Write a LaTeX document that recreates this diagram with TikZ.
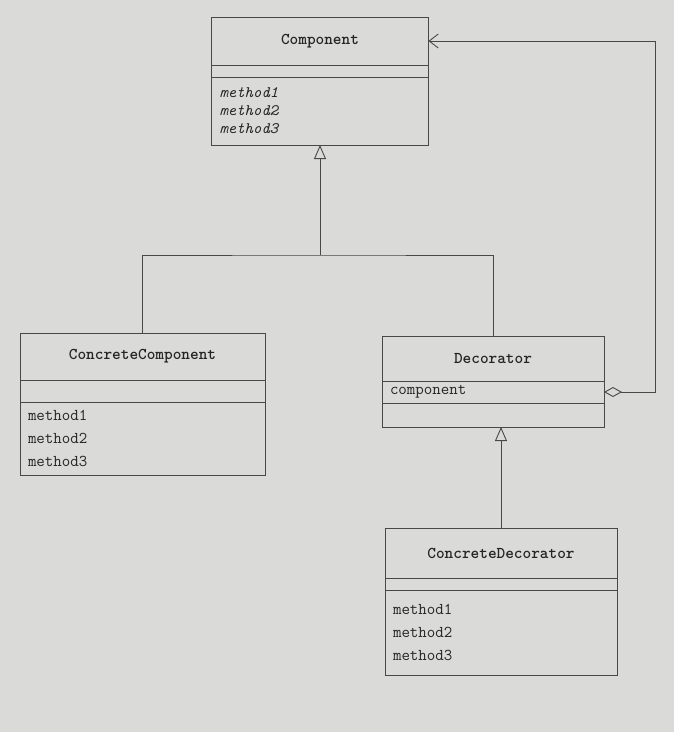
\documentclass[tikz,border=0pt]{standalone}
\usetikzlibrary{positioning,arrows.meta}
\definecolor{paper}{RGB}{218,218,216}
\definecolor{ink}{RGB}{72,72,72}
\definecolor{type}{RGB}{36,36,36}
\tikzset{
  part/.style={draw=ink, line width=0.9pt, outer sep=0pt, inner xsep=8pt, inner ysep=0pt,
    text=type, font=\ttfamily\fontsize{16.5}{23}\selectfont},
  namepart/.style={part, font=\ttfamily\bfseries\fontsize{16.5}{18}\selectfont, align=center},
  listpart/.style={part, align=left},
  link/.style={draw=ink, line width=0.9pt},
}

\begin{document}
\begin{tikzpicture}[x=1pt, y=-1pt]
\fill[paper] (0,0) rectangle (674,732);

% Component
\node[namepart, text width=201pt, minimum height=48pt] (comp-name) at (320,41) {Component};
\node[listpart, text width=201pt, minimum height=12pt, below=0pt of comp-name] (comp-attr) {};
\node[listpart, text width=201pt, minimum height=68pt, below=0pt of comp-attr,
  font=\ttfamily\fontsize{16}{18}\selectfont] (comp-ops)
  {\itshape method1\\\itshape method2\\\itshape method3};

% ConcreteComponent
\node[namepart, text width=229pt, minimum height=47pt] (ccomp-name) at (142.5,356.5) {ConcreteComponent};
\node[listpart, text width=229pt, minimum height=22pt, below=0pt of ccomp-name] (ccomp-attr) {};
\node[listpart, text width=229pt, minimum height=73pt, below=0pt of ccomp-attr] (ccomp-ops)
  {method1\\method2\\method3};

% Decorator
\node[namepart, text width=206pt, minimum height=45pt] (dec-name) at (493,358.5) {Decorator};
\node[listpart, text width=206pt, minimum height=22pt, below=0pt of dec-name] (dec-attr) {component};
\node[listpart, text width=206pt, minimum height=24pt, below=0pt of dec-attr] (dec-ops) {};

% ConcreteDecorator
\node[namepart, text width=216pt, minimum height=50pt] (cdec-name) at (501,553) {ConcreteDecorator};
\node[listpart, text width=216pt, minimum height=12pt, below=0pt of cdec-name] (cdec-attr) {};
\node[listpart, text width=216pt, minimum height=85pt, below=0pt of cdec-attr] (cdec-ops)
  {method1\\method2\\method3};

% Generalization
\coordinate (bar) at (320,255);
\draw[link] (ccomp-name.north) |- (bar) -| (dec-name.north);
\draw[link, -{Triangle[open, length=14pt, width=12pt]}] (bar) -- (comp-ops.south);
\draw[link, -{Triangle[open, length=14pt, width=12pt]}] (cdec-name.north) -- (cdec-name.north |- dec-ops.south);

% Aggregation
\coordinate (turn) at (655,41);
\draw[link, {Diamond[open, length=18pt, width=10pt]}-{Straight Barb[length=9pt, width=14pt]}]
  (dec-attr.east) -| (turn) -- (comp-name.east);
\end{tikzpicture}
\end{document}
